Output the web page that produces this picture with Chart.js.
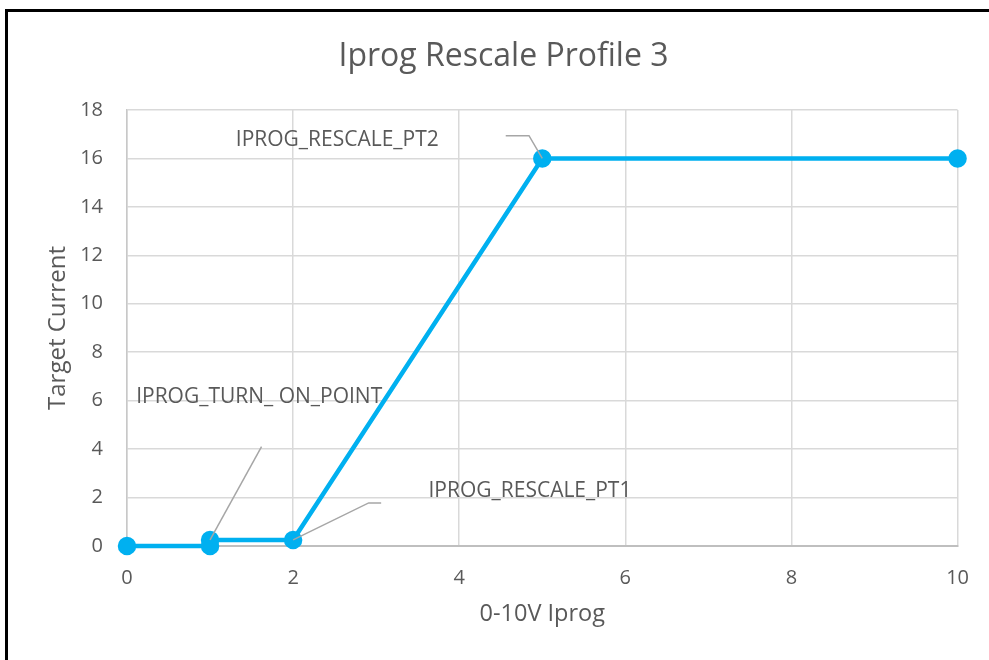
<!DOCTYPE html>
<html>
<head>
<meta charset="utf-8">
<script src="https://cdn.jsdelivr.net/npm/chart.js@4.4.1/dist/chart.umd.min.js"></script>
<style>
  html, body { margin: 0; padding: 0; background: #fff; overflow: hidden; }
  #wrap { position: absolute; left: 0; top: 0; width: 989px; height: 660px; }
  #frame { position: absolute; left: 5px; top: 9px; width: 1010px; height: 700px; border: 3px solid #000; pointer-events: none; }
</style>
</head>
<body>
<div id="wrap"><canvas id="chart"></canvas></div>
<div id="frame"></div>
<script>
// data
const xValues = [0, 1, 1, 2, 5, 10];
const yValues = [0, 0, 0.25, 0.25, 16, 16];
const xTicks = [0, 2, 4, 6, 8, 10];
const yTicks = [0, 2, 4, 6, 8, 10, 12, 14, 16, 18];

// callout labels: text, anchor (data point index), leader bend and end, text spot (data units)
const calloutLabels = ['IPROG_TURN_ ON_POINT', 'IPROG_RESCALE_PT1', 'IPROG_RESCALE_PT2'];
const calloutAnchor = [2, 3, 4];
const calloutBend = [[1.62, 4.1], [2.91, 1.78], [4.84, 16.94]];
const calloutEnd = [[1.62, 4.1], [3.06, 1.78], [4.56, 16.94]];
const calloutText = [[0.11, 6.15], [3.63, 2.26], [1.31, 16.75]];

const FONT = '"Open Sans", Lato, sans-serif';
const GREY_TEXT = '#595959';

const calloutPlugin = {
  id: 'callouts',
  afterDatasetsDraw(chart) {
    const { ctx } = chart;
    const xs = chart.scales.x;
    const ys = chart.scales.y;
    ctx.save();
    ctx.strokeStyle = '#a6a6a6';
    ctx.lineWidth = 1.5;
    calloutLabels.forEach((txt, i) => {
      const a = calloutAnchor[i];
      ctx.beginPath();
      ctx.moveTo(xs.getPixelForValue(xValues[a]), ys.getPixelForValue(yValues[a]));
      ctx.lineTo(xs.getPixelForValue(calloutBend[i][0]), ys.getPixelForValue(calloutBend[i][1]));
      ctx.lineTo(xs.getPixelForValue(calloutEnd[i][0]), ys.getPixelForValue(calloutEnd[i][1]));
      ctx.stroke();
      ctx.fillStyle = GREY_TEXT;
      ctx.font = '21px ' + FONT;
      ctx.textAlign = 'left';
      ctx.textBaseline = 'middle';
      ctx.fillText(txt, xs.getPixelForValue(calloutText[i][0]), ys.getPixelForValue(calloutText[i][1]));
    });
    ctx.restore();
  }
};

const chart = new Chart(document.getElementById('chart'), {
  type: 'scatter',
  data: {
    datasets: [{
      label: 'Target Current',
      data: xValues.map((x, i) => ({ x: x, y: yValues[i] })),
      showLine: true,
      borderColor: '#00b0f0',
      backgroundColor: '#00b0f0',
      borderWidth: 4.5,
      pointRadius: 7,
      pointHoverRadius: 7,
      tension: 0,
      clip: false,
    }],
  },
  options: {
    responsive: true,
    maintainAspectRatio: false,
    animation: false,
    layout: { padding: { left: 18, right: 0, top: 0, bottom: 0 } },
    plugins: {
      legend: { display: false },
      tooltip: { enabled: false },
      title: {
        display: true,
        text: 'Iprog Rescale Profile 3',
        color: GREY_TEXT,
        font: { family: FONT, size: 32, weight: 'normal' },
        padding: { top: 38, bottom: 33.6 },
      },
    },
    scales: {
      x: {
        type: 'linear',
        min: 0,
        max: 10,
        afterBuildTicks: (s) => { s.ticks = xTicks.map(v => ({ value: v })); },
        afterFit: (s) => { s.height = 114; },
        grid: { color: '#d9d9d9', lineWidth: 1.5, drawTicks: false },
        border: { color: '#bfbfbf', width: 2 },
        ticks: { color: GREY_TEXT, font: { family: FONT, size: 20 }, padding: 20, maxRotation: 0 },
        title: {
          display: true,
          text: '0-10V Iprog',
          color: GREY_TEXT,
          font: { family: FONT, size: 23.5 },
          padding: { top: 4, bottom: 32 },
        },
      },
      y: {
        type: 'linear',
        min: 0,
        max: 18,
        afterBuildTicks: (s) => { s.ticks = yTicks.map(v => ({ value: v })); },
        afterFit: (s) => { s.width = 109; },
        grid: { color: '#d9d9d9', lineWidth: 1.5, drawTicks: false },
        border: { color: '#c8c8c8', width: 1.5 },
        ticks: { color: GREY_TEXT, font: { family: FONT, size: 20 }, padding: 24 },
        title: {
          display: true,
          text: 'Target Current',
          color: GREY_TEXT,
          font: { family: FONT, size: 24 },
          padding: { top: 25.6, bottom: 25.6 },
        },
      },
      y2: {
        type: 'linear',
        position: 'right',
        min: 0,
        max: 18,
        afterFit: (s) => { s.width = 28; },
        grid: { display: false, drawTicks: false },
        border: { display: false },
        ticks: { display: false },
      },
    },
  },
  plugins: [calloutPlugin],
});
</script>
</body>
</html>
